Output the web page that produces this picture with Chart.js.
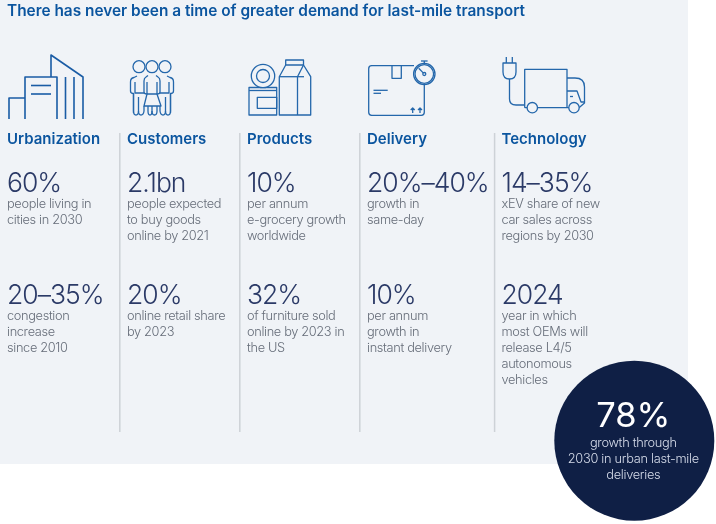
<!DOCTYPE html>
<html>
<head>
<meta charset="utf-8">
<style>
  html, body { margin: 0; padding: 0; background: #fff; }
  canvas { display: block; }
</style>
<script src="https://cdn.jsdelivr.net/npm/chart.js@4"></script>
</head>
<body>
<canvas id="chart" width="716" height="524"></canvas>
<script>
// content of the picture
var title = 'There has never been a time of greater demand for last-mile transport';
var categories = ['Urbanization', 'Customers', 'Products', 'Delivery', 'Technology'];
var topStats = ['60%', '2.1bn', '10%', '20%\u201340%', '14\u201335%'];
var topNotes = [
    ['people living in', 'cities in 2030'],
    ['people expected', 'to buy goods', 'online by 2021'],
    ['per annum', 'e-grocery growth', 'worldwide'],
    ['growth in', 'same-day'],
    ['xEV share of new', 'car sales across', 'regions by 2030']
];
var bottomStats = ['20\u201335%', '20%', '32%', '10%', '2024'];
var bottomNotes = [
    ['congestion', 'increase', 'since 2010'],
    ['online retail share', 'by 2023'],
    ['of furniture sold', 'online by 2023 in', 'the US'],
    ['per annum', 'growth in', 'instant delivery'],
    ['year in which', 'most OEMs will', 'release L4/5', 'autonomous', 'vehicles']
];
var calloutStat = '78%';
var calloutNote = ['growth through', '2030 in urban last-mile', 'deliveries'];

// layout, in the same units as the hidden axes (which span the window)
var columnX = [7, 127, 247, 367, 501.5];
var dividerX = [119.8, 239.8, 359.8, 494.6];
var dividerTop = 133, dividerBottom = 432;
var panelRight = 688, panelBottom = 464;
var calloutX = 634.3, calloutY = 440.7, calloutRadius = 80;

var BLUE = '#0b559f', NAVY = '#2b3a67', GREY = '#666d79', ICON = '#2467ab', PANEL = '#f0f3f7';
var TITLE_FONT = '600 15.4px Inter', HEAD_FONT = '600 15px Inter', STAT_FONT = '300 26.5px Inter', NOTE_FONT = '300 12.8px Inter';

// icons, as svg paths
var cityLines = [
    'M9 119V98H25', 'M25 119V77H57V119', 'M51 77V55L83 77V119', 'M65.5 77V119', 'M74 77V119', 'M31 85.5H51', 'M31 94H51'
];
var iconLines = [
    // customers
    'M133.5 113V93.5Q130.5 93.5 130.5 91V82Q130.5 78 134 77.5L137 76', 'M135 82V93H144', 'M133.5 93V111Q133.5 115 136 115T138.5 111V97', 'M138.5 111Q138.5 115 141 115T144 111V106',
    'M170.5 113V93.5Q173.5 93.5 173.5 91V82Q173.5 78 170 77.5L167 76', 'M169 82V93H160', 'M170.5 93V111Q170.5 115 168 115T165.5 111V97', 'M165.5 111Q165.5 115 163 115T160 111V106',
    'M148 75.5L146 77Q144 78 144 81V92Q144 94 147 94L144 106H161L157 94Q160 94 160 92V81Q160 78 158 77L156 75.5', 'M147 94H157V82M147 94V82',
    'M148 106V111Q148 115 150 115T152 111V106', 'M152 111Q152 115 154.5 115T157 111V106',
    // products
    'M249 87.5H276.7V115H249Z', 'M249 90.5H276.7', 'M257.3 97.3H276.7V108.3H257.3Z',
    'M279.3 115V76.7L285.7 65H303.5L310.7 76.7V115Z', 'M285.7 65V60H303.5V65', 'M279.3 76.7H304', 'M297.5 76.7V115', 'M297.5 76.7L303.5 65',
    // delivery
    'M414 65.7H371.7Q368.7 65.7 368.7 68.7V112.3Q368.7 115.3 371.7 115.3H421.3Q424.3 115.3 424.3 112.3V84.7',
    'M392 65.7V78.3H401.3V65.7', 'M373.5 90.3H387.7', 'M373.5 93.3H381', 'M424.3 63.3V61', 'M421 61H427.6',
    'M412.7 113V108M410.7 110L412.7 108L414.7 110', 'M420 113V108M418 110L420 108L422 110',
    // technology
    'M506.3 57V63', 'M512.3 57V63', 'M503 63H516V72Q516 79 509.5 79Q503 79 503 72Z', 'M509.5 79V99Q509.5 105 516 105H524.7',
    'M524.7 107.7V69.3H567V107.7', 'M524.7 107.7H569', 'M567 78H575Q584.5 78 584.5 87V103L579 107.7', 'M567 91H577L581 102H584.5', 'M570 96.5H573'
];
// x, y, radius
var iconCircles = [
    [139, 66.7, 6], [152, 66.7, 6], [165, 66.7, 6],
    [263, 76, 11.7], [263, 76, 6.5],
    [424.3, 74, 10.7], [424.3, 74, 9.3], [424.3, 74, 1.5],
    [532.3, 107.7, 5.2], [574, 107.7, 5.2]
];
var stopwatchHand = 'M418.7 68.3L423.2 72.9';

function drawText(ctx, text, x, y, font, color, align, spacing) {
    ctx.font = font;
    ctx.fillStyle = color;
    ctx.textAlign = align || 'left';
    ctx.textBaseline = 'alphabetic';
    ctx.letterSpacing = spacing || '0px';
    ctx.fillText(text, x, y);
}

var panelPlugin = {
    id: 'panel',
    beforeDatasetsDraw: function (chart) {
        var sx = chart.scales.x, sy = chart.scales.y, ctx = chart.ctx;
        ctx.save();
        ctx.fillStyle = PANEL;
        ctx.fillRect(sx.getPixelForValue(0), sy.getPixelForValue(0),
            sx.getPixelForValue(panelRight) - sx.getPixelForValue(0),
            sy.getPixelForValue(panelBottom) - sy.getPixelForValue(0));
        ctx.restore();
    }
};

var labelPlugin = {
    id: 'labels',
    afterDatasetsDraw: function (chart) {
        var sx = chart.scales.x, sy = chart.scales.y, ctx = chart.ctx;
        ctx.save();

        // icons
        ctx.strokeStyle = '#1a5ca5';
        ctx.lineWidth = 1.6;
        ctx.lineJoin = 'round';
        cityLines.forEach(function (d) { ctx.stroke(new Path2D(d)); });
        ctx.strokeStyle = ICON;
        ctx.lineWidth = 1.3;
        iconLines.forEach(function (d) { ctx.stroke(new Path2D(d)); });
        iconCircles.forEach(function (c) {
            ctx.beginPath();
            ctx.arc(sx.getPixelForValue(c[0]), sy.getPixelForValue(c[1]), c[2], 0, Math.PI * 2);
            ctx.fillStyle = PANEL;
            ctx.fill();
            ctx.stroke();
        });
        ctx.stroke(new Path2D(stopwatchHand));

        // text
        drawText(ctx, title, sx.getPixelForValue(7), sy.getPixelForValue(16), TITLE_FONT, BLUE);
        categories.forEach(function (name, i) {
            var x = sx.getPixelForValue(columnX[i]);
            drawText(ctx, name, x, sy.getPixelForValue(144), HEAD_FONT, BLUE);
            drawText(ctx, topStats[i], x, sy.getPixelForValue(192), STAT_FONT, NAVY, 'left', '-1px');
            topNotes[i].forEach(function (line, j) {
                drawText(ctx, line, x, sy.getPixelForValue(208 + j * 16), NOTE_FONT, GREY, 'left', '-0.35px');
            });
            drawText(ctx, bottomStats[i], x, sy.getPixelForValue(304), STAT_FONT, NAVY, 'left', '-1px');
            bottomNotes[i].forEach(function (line, j) {
                drawText(ctx, line, x, sy.getPixelForValue(320 + j * 16), NOTE_FONT, GREY, 'left', '-0.35px');
            });
        });

        // callout
        var cx = sx.getPixelForValue(calloutX - 1);
        drawText(ctx, calloutStat, cx, sy.getPixelForValue(427), '400 34.5px Inter', '#ffffff', 'center');
        calloutNote.forEach(function (line, j) {
            drawText(ctx, line, cx, sy.getPixelForValue(447 + j * 16), NOTE_FONT, '#d6dcea', 'center', '-0.3px');
        });
        ctx.restore();
    }
};

// dividers between the columns and the round callout are scatter datasets
var datasets = dividerX.map(function (x) {
    return {
        data: [{ x: x, y: dividerTop }, { x: x, y: dividerBottom }],
        showLine: true,
        borderColor: '#cdd2d7',
        borderWidth: 1.5,
        pointRadius: 0
    };
});
datasets.push({
    data: [{ x: calloutX, y: calloutY }],
    pointRadius: calloutRadius,
    pointHoverRadius: calloutRadius,
    backgroundColor: '#0f1f45',
    borderWidth: 0,
    clip: false
});

var myChart = new Chart(document.getElementById('chart').getContext('2d'), {
    type: 'scatter',
    data: { datasets: datasets },
    options: {
        responsive: false,
        animation: false,
        devicePixelRatio: 1,
        layout: { padding: 0, autoPadding: false },
        plugins: { legend: { display: false }, tooltip: { enabled: false } },
        scales: {
            x: { type: 'linear', min: 0, max: 716, display: false },
            y: { type: 'linear', min: 0, max: 524, reverse: true, display: false }
        }
    },
    plugins: [panelPlugin, labelPlugin]
});
</script>
</body>
</html>
